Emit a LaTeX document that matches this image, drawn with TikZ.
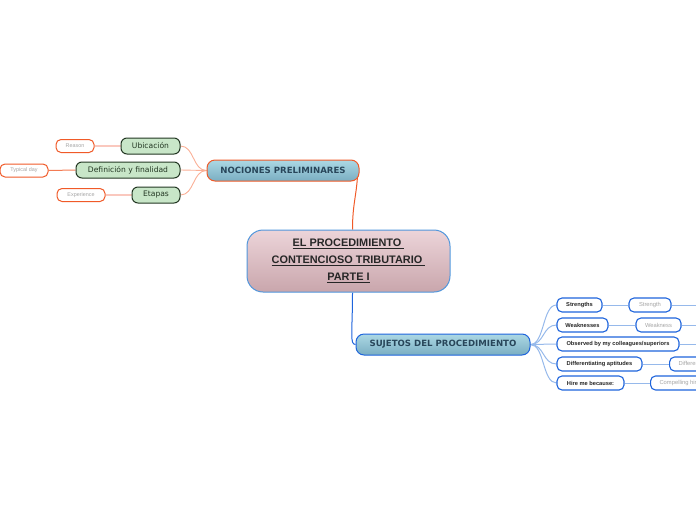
\documentclass[tikz,border=0pt]{standalone}
\usepackage{fontspec}
\setmainfont{Liberation Sans}
\newfontfamily\vfont{DejaVu Sans}
\usetikzlibrary{calc}
\usetikzlibrary{backgrounds}
\definecolor{ornge}{RGB}{240,90,40}
\definecolor{lornge}{RGB}{250,175,150}
\definecolor{dgreen}{RGB}{35,55,35}
\definecolor{lgreen}{RGB}{200,230,200}
\definecolor{mblue}{RGB}{30,100,220}
\definecolor{lblue}{RGB}{150,185,235}
\definecolor{tgray}{RGB}{165,165,165}
\definecolor{ttext}{RGB}{40,70,90}

\begin{document}
\begin{tikzpicture}[x=1pt,y=-1pt,inner sep=0pt,
  topic/.style={draw,line width=1pt,rounded corners=8pt,minimum height=21pt,
    top color={rgb,255:red,172;green,216;blue,228},bottom color={rgb,255:red,122;green,174;blue,194},
    text=ttext,font=\vfont\bfseries\fontsize{8.6}{10}\selectfont},
  sub/.style={draw=dgreen,line width=1pt,fill=lgreen,rounded corners=6pt,minimum height=16pt,
    text=dgreen,font=\vfont\fontsize{7.6}{9}\selectfont},
  leaf/.style={draw=ornge,line width=1pt,fill=white,rounded corners=5pt,minimum height=13pt,
    text=tgray,font=\fontsize{5.4}{6}\selectfont},
  rsub/.style={draw=mblue,line width=1.1pt,fill=white,rounded corners=5pt,minimum height=14pt,
    text=black!85,font=\bfseries\fontsize{5.7}{6}\selectfont},
  rleaf/.style={rsub,text=tgray,font=\fontsize{5.8}{6}\selectfont},
  cutleaf/.style={rleaf,anchor=west,inner xsep=9pt},
  oline/.style={draw=lornge,line width=0.9pt},
  bline/.style={draw=lblue,line width=1pt}]
\useasboundingbox (0,0) rectangle (696,520);
\clip (0,0) rectangle (696,520);

% central topic
\node[draw={rgb,255:red,80;green,150;blue,220},line width=1pt,rounded corners=16pt,
  minimum width=203pt,minimum height=62pt,
  top color={rgb,255:red,236;green,212;blue,217},bottom color={rgb,255:red,201;green,166;blue,172},
  align=center,text=black!85,font=\bfseries\fontsize{10.9}{17}\selectfont]
  (root) at (348.5,261) {\underline{EL PROCEDIMIENTO }\\\underline{CONTENCIOSO TRIBUTARIO }\\\underline{PARTE I}};

% main topics
\node[topic,draw=ornge,minimum width=152pt] (n1) at (283,170.5) {NOCIONES PRELIMINARES};
\node[topic,draw=mblue,minimum width=174pt] (n2) at (443,344.5) {SUJETOS DEL PROCEDIMIENTO};

% left branch
\node[sub,minimum width=59pt] (a1) at (150.5,146) {Ubicación};
\node[sub,minimum width=104pt] (a2) at (128,170) {Definición y finalidad};
\node[sub,minimum width=48pt] (a3) at (156,195) {Etapas};
\node[leaf,minimum width=38pt] (b1) at (75,146) {Reason};
\node[leaf,minimum width=48pt] (b2) at (24,170.5) {Typical day};
\node[leaf,minimum width=48pt] (b3) at (81,195) {Experience};

% right branch
\node[rsub,minimum width=45pt] (c1) at (579.5,305) {Strengths};
\node[rsub,minimum width=51pt] (c2) at (582.5,325) {Weaknesses};
\node[rsub,minimum width=122pt] (c3) at (618,344) {Observed by my colleagues/superiors};
\node[rsub,minimum width=85pt] (c4) at (599.5,364) {Differentiating aptitudes};
\node[rsub,minimum width=67pt] (c5) at (590.5,383) {Hire me because:};
\node[rleaf,minimum width=42pt] (d1) at (650,305) {Strength};
\node[rleaf,minimum width=45pt] (d2) at (658.5,325) {Weakness};
\node[cutleaf] (d4) at (669,364) {Differentiating aptitudes};
\node[cutleaf] (d5) at (650,383) {Compelling hire};
\coordinate (e1) at (700,305);
\coordinate (e2) at (700,325);
\coordinate (e3) at (700,344);

\begin{scope}[on background layer]
\draw[ornge,line width=1pt] ($(root.north)+(4,0)$) .. controls +(0,-25) and +(-1,20) .. ($(n1.east)+(-2,5)$);
\draw[mblue,line width=1pt] ($(root.south)+(4,0)$) .. controls +(0,40) and +(-6,0) .. (n2.west);

\draw[oline] (n1.west) .. controls +(-14,0) and +(14,0) .. (a1.east);
\draw[oline] (n1.west) -- (a2.east);
\draw[oline] (n1.west) .. controls +(-14,0) and +(14,0) .. (a3.east);
\draw[draw={rgb,255:red,250;green,200;blue,190},line width=2pt] (a1.west) -- (b1.east);
\draw[ornge!80,line width=1pt] (a2.west) -- (b2.east);
\draw[draw={rgb,255:red,250;green,200;blue,190},line width=2pt] (a3.west) -- (b3.east);

\foreach \i in {1,...,5}
  \draw[bline] (n2.east) .. controls +(14,0) and +(-14,0) .. (c\i.west);
\draw[bline] (c1) -- (d1);
\draw[bline] (c2) -- (d2);
\draw[bline] (c4) -- (d4);
\draw[bline] (c5) -- (d5);
\draw[bline] (d1) -- (e1);
\draw[bline] (d2) -- (e2);
\draw[bline] (c3) -- (e3);
\end{scope}
\end{tikzpicture}
\end{document}
